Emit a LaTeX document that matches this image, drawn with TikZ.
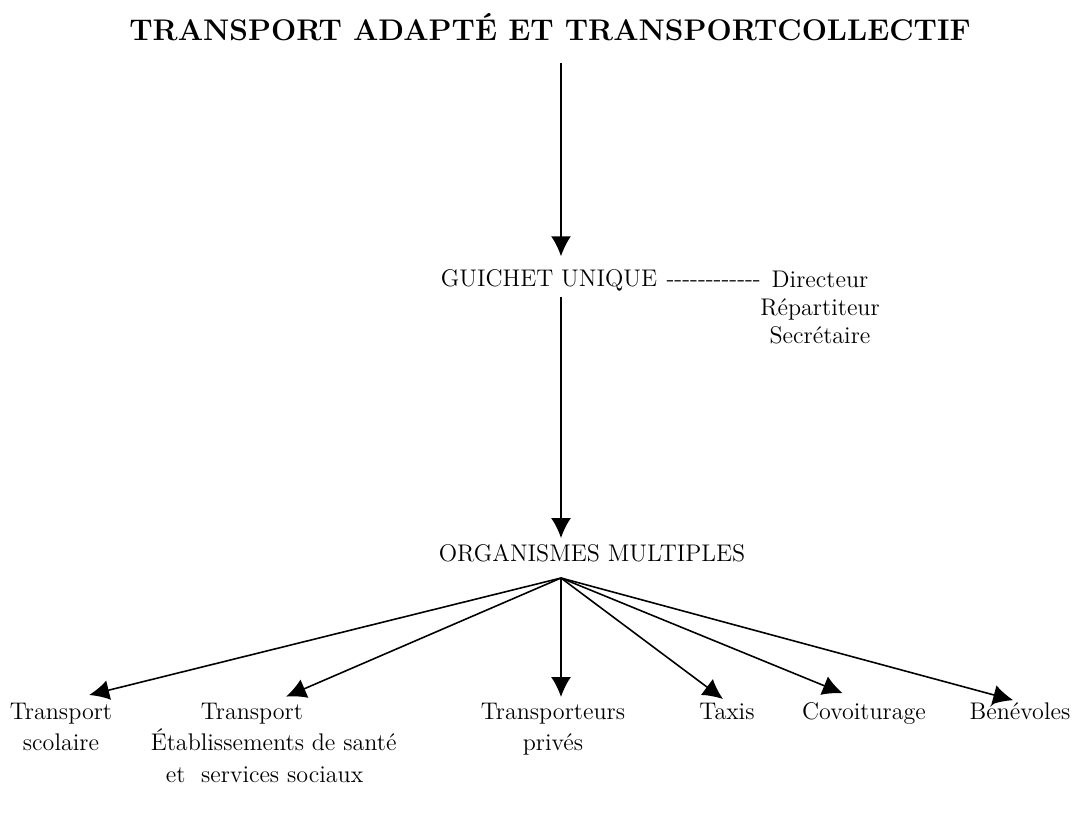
\documentclass[tikz,border=0pt]{standalone}
\usepackage{fontspec}
\usetikzlibrary{arrows.meta, positioning}
\tikzset{>={Latex[length=0.4cm,width=0.4cm]},
every edge/.append style={->},
every node/.style={inner sep=0pt, font=\fontsize{13.7}{18.1}\selectfont},
titre/.style={font=\fontsize{17}{20}\selectfont\bfseries},
liste/.style={align=center, font=\fontsize{13.7}{15.9}\selectfont},
branche/.style={anchor=north, align=center},
}
\newcommand{\tirets}{-{}-{}-{}-{}-{}-{}-{}-{}-{}-{}-{}-}

\begin{document}
\begin{tikzpicture}[x=0.02cm, y=-0.02cm, line width=0.9pt]
    \useasboundingbox (0,0) rectangle (1075,838);
        \node[titre, anchor=base] (titre) at (550,41) {TRANSPORT ADAPTÉ ET TRANSPORTCOLLECTIF};
        \node[anchor=base] (guichet) at (549,286) {GUICHET UNIQUE};
        \node[base right=0.16cm of guichet] (tirets) {\tirets};
        \node[liste, anchor=north] (personnel) at (820,270) {Directeur\\Répartiteur\\Secrétaire};
        \node[anchor=base] (organismes) at (592,561) {ORGANISMES MULTIPLES};
        \coordinate (fan) at (561,578);
        % les six branches
        \node[branche] (scolaire) at (61,702) {Transport\\scolaire};
        \node[branche, anchor=north west, align=left] (etablissements) at (150,702)
            {\hspace{1cm}Transport\\Établissements de santé\\\hspace{0.3cm}et\ \ services sociaux};
        \node[branche] (transporteurs) at (553,702) {Transporteurs\\privés};
        \node[branche] (taxis) at (727,702) {Taxis};
        \node[branche] (covoiturage) at (864,702) {Covoiturage};
        \node[branche] (benevoles) at (1020,702) {Bénévoles};
        \draw
        (titre.south -| fan) edge[shorten <=0.42cm, shorten >=0.24cm] (guichet.north -| fan)
        (guichet.south -| fan) edge[shorten <=0.11cm, shorten >=0.1cm] (organismes.north -| fan)
        (fan) edge[shorten >=0.58cm] (scolaire.north)
        (fan) edge[shorten >=0.27cm] (etablissements.north)
        (fan) edge[shorten >=0.1cm] (transporteurs.north -| fan)
        (fan) edge[shorten >=0.1cm] (taxis.north)
        (fan) edge[shorten >=0.46cm] (covoiturage.north)
        (fan) edge[shorten >=0.14cm] (benevoles.north)
        ;
    \end{tikzpicture}
\end{document}
